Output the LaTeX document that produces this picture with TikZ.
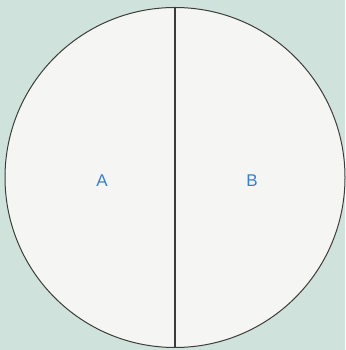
\documentclass[tikz,border=0pt]{standalone}
\usepackage{fontspec}
\setmainfont{Liberation Sans}
\definecolor{bgteal}{HTML}{CFE3DC}
\definecolor{disc}{HTML}{F5F5F3}
\definecolor{edge}{HTML}{3C3C3C}
\definecolor{lbl}{HTML}{3A80C8}
\begin{document}
\begin{tikzpicture}[x=1pt,y=1pt,
  region/.style={text=lbl,font=\fontsize{17}{19}\selectfont,inner sep=0pt}]
\fill[bgteal] (0,0) rectangle (345,350);
\useasboundingbox (0,0) rectangle (345,350);
\node[circle,draw=edge,fill=disc,line width=1pt,minimum size=340pt,inner sep=0pt] (c) at (175,172.5) {};
\draw[edge,line width=1.2pt] (c.north) -- (c.south);
\node[region] (a) at (102,169) {A};
\node[region] (b) at (252,169) {B};
\end{tikzpicture}
\end{document}
